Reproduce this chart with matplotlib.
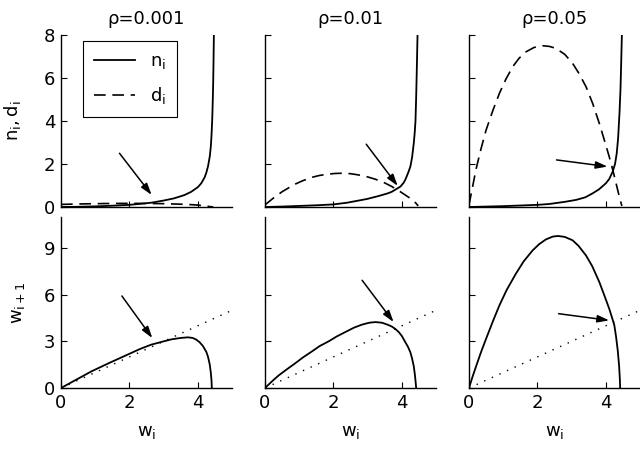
import matplotlib
matplotlib.use("Agg")
import matplotlib.pyplot as plt

plt.rcParams['font.family'] = ['DejaVu Sans']
plt.rcParams['mathtext.fontset'] = 'dejavusans'

# ---------------- data ----------------
titles = ["ρ=0.001", "ρ=0.01", "ρ=0.05"]

# top row: n_i (solid)
n_w = [
    [0, 0.5, 1.0, 1.5, 2.0, 2.4, 2.64, 3.0, 3.3, 3.6, 3.8, 4.0, 4.1, 4.2, 4.25, 4.3, 4.35, 4.38, 4.4, 4.42, 4.43, 4.44, 4.45, 4.46, 4.47],
    [0, 0.5, 1.0, 1.5, 2.0, 2.4, 2.84, 3.0, 3.32, 3.6, 3.71, 3.96, 4.05, 4.1, 4.15, 4.2, 4.25, 4.3, 4.35, 4.38, 4.4, 4.42, 4.44, 4.46],
    [0, 0.5, 1.0, 1.5, 2.0, 2.35, 2.8, 3.13, 3.4, 3.62, 3.8, 4.0, 4.1, 4.2, 4.27, 4.32, 4.36, 4.4, 4.43, 4.45, 4.47],
]
n_v = [
    [0, 0.01, 0.03, 0.06, 0.1, 0.16, 0.2, 0.3, 0.4, 0.55, 0.7, 0.92, 1.1, 1.38, 1.6, 1.9, 2.35, 2.8, 3.3, 4.0, 4.5, 5.1, 5.8, 6.8, 8.0],
    [0, 0.02, 0.05, 0.08, 0.12, 0.2, 0.33, 0.38, 0.51, 0.64, 0.71, 0.95, 1.12, 1.26, 1.45, 1.65, 1.88, 2.3, 2.96, 3.5, 4.0, 5.1, 6.5, 8.0],
    [0, 0.02, 0.04, 0.07, 0.1, 0.14, 0.24, 0.33, 0.45, 0.64, 0.82, 1.1, 1.3, 1.64, 2.0, 2.5, 3.2, 4.36, 5.5, 6.7, 8.0],
]

# top row: d_i (dashed)
d_w = [
    [0, 0.5, 1.0, 1.5, 2.0, 2.5, 3.0, 3.5, 3.8, 4.0, 4.2, 4.35, 4.45],
    [0, 0.25, 0.5, 0.7, 0.89, 1.1, 1.37, 1.6, 1.86, 2.05, 2.25, 2.5, 2.74, 3.0, 3.23, 3.5, 3.71, 3.9, 4.1, 4.25, 4.4, 4.48],
    [0, 0.1, 0.2, 0.35, 0.5, 0.7, 0.89, 1.08, 1.28, 1.47, 1.67, 1.9, 2.15, 2.35, 2.54, 2.8, 3.03, 3.22, 3.42, 3.62, 3.81, 3.95, 4.1, 4.2, 4.3, 4.4, 4.47],
]
d_v = [
    [0.12, 0.14, 0.155, 0.165, 0.17, 0.165, 0.155, 0.13, 0.11, 0.09, 0.05, 0.02, 0.0],
    [0.1, 0.42, 0.71, 0.9, 1.07, 1.22, 1.38, 1.47, 1.53, 1.56, 1.57, 1.55, 1.49, 1.4, 1.29, 1.12, 0.95, 0.77, 0.56, 0.4, 0.2, 0.05],
    [0.1, 0.9, 1.72, 2.7, 3.58, 4.5, 5.29, 5.95, 6.53, 6.93, 7.22, 7.42, 7.5, 7.47, 7.38, 7.1, 6.68, 6.2, 5.6, 4.8, 3.89, 3.15, 2.34, 1.75, 1.1, 0.45, 0.05],
]

# bottom row: w_{i+1} (solid)
wn_w = [
    [0, 0.5, 0.89, 1.4, 1.86, 2.3, 2.64, 3.0, 3.23, 3.5, 3.71, 3.85, 3.95, 4.05, 4.15, 4.25, 4.3, 4.35, 4.38, 4.4, 4.41],
    [0, 0.2, 0.4, 0.65, 0.89, 1.1, 1.37, 1.6, 1.86, 2.1, 2.35, 2.6, 2.84, 3.05, 3.23, 3.42, 3.6, 3.71, 3.81, 3.91, 4.0, 4.1, 4.18, 4.25, 4.3, 4.35, 4.38, 4.4, 4.42],
    [0, 0.1, 0.2, 0.35, 0.5, 0.7, 0.89, 1.1, 1.37, 1.6, 1.86, 2.05, 2.25, 2.45, 2.6, 2.8, 3.03, 3.2, 3.42, 3.6, 3.81, 3.95, 4.1, 4.2, 4.25, 4.3, 4.35, 4.39, 4.41, 4.42],
]
wn_v = [
    [0, 0.6, 1.07, 1.6, 2.06, 2.5, 2.79, 3.0, 3.13, 3.22, 3.26, 3.22, 3.12, 2.95, 2.7, 2.32, 2.0, 1.5, 1.0, 0.5, 0],
    [0, 0.42, 0.81, 1.22, 1.6, 1.95, 2.35, 2.7, 3.0, 3.32, 3.6, 3.88, 4.08, 4.2, 4.24, 4.2, 4.06, 3.95, 3.8, 3.6, 3.35, 2.96, 2.65, 2.3, 1.9, 1.4, 0.9, 0.5, 0],
    [0, 0.7, 1.35, 2.3, 3.17, 4.3, 5.32, 6.3, 7.35, 8.15, 8.85, 9.25, 9.56, 9.74, 9.78, 9.72, 9.5, 9.15, 8.53, 7.85, 6.82, 6.0, 5.1, 4.4, 4.03, 3.3, 2.4, 1.4, 0.6, 0],
]

# diagonal w_{i+1} = w_i (dotted)
diag_w = [0, 5]
diag_v = [0, 5]

# arrows (tail -> tip)
top_arrow_tail = [(1.71, 2.5), (2.96, 2.92), (2.56, 2.19)]
top_arrow_tip = [(2.65, 0.56), (3.88, 0.98), (4.05, 1.88)]
bot_arrow_tail = [(1.78, 5.92), (2.84, 6.93), (2.62, 4.78)]
bot_arrow_tip = [(2.67, 3.21), (3.76, 4.24), (4.10, 4.35)]

x_ticks = [0, 2, 4]
top_yticks = [0, 2, 4, 6, 8]
bot_yticks = [0, 3, 6, 9]

# ---------------- figure ----------------
fig = plt.figure(figsize=(6.4, 4.54), dpi=100)
W, H = 640.0, 454.0
lefts = [61, 265, 469]
aw = 171
top_box = (35, 207)
bot_box = (217, 388)

FS = 13
arrowprops = dict(arrowstyle='-|>,head_length=0.7,head_width=0.22', color='k',
                  lw=1.1, shrinkA=0, shrinkB=0)


def style(ax):
    for s in ['top', 'right']:
        ax.spines[s].set_visible(False)
    for s in ['left', 'bottom']:
        ax.spines[s].set_linewidth(1.0)
    ax.tick_params(direction='in', length=4, width=0.8, labelsize=FS, pad=4)


for j in range(3):
    x0 = lefts[j] / W
    # top
    axt = fig.add_axes([x0, 1 - top_box[1] / H, aw / W, (top_box[1] - top_box[0]) / H])
    style(axt)
    axt.plot(n_w[j], n_v[j], 'k-', lw=1.3, label=r'$\mathregular{n_i}$')
    axt.plot(d_w[j], d_v[j], 'k', lw=1.2, dashes=(7, 4), label=r'$\mathregular{d_i}$')
    axt.set_xlim(0, 5)
    axt.set_ylim(0, 8)
    axt.set_xticks(x_ticks)
    axt.set_yticks(top_yticks)
    axt.set_xticklabels([])
    axt.set_title(titles[j], fontsize=FS, pad=8)
    axt.annotate('', xy=top_arrow_tip[j], xytext=top_arrow_tail[j], arrowprops=arrowprops)
    if j == 0:
        axt.set_ylabel(r'$\mathregular{n_i, d_i}$', fontsize=FS)
        axt.yaxis.set_label_coords(-0.22, 0.5)
        leg = axt.legend(loc='upper left', bbox_to_anchor=(0.129, 0.965), borderaxespad=0,
                         fancybox=False, edgecolor='k', framealpha=1, fontsize=FS,
                         handlelength=2.3, handletextpad=0.8, borderpad=0.6,
                         labelspacing=0.8)
        leg.get_frame().set_linewidth(0.8)
    else:
        axt.set_yticklabels([])

    # bottom
    axb = fig.add_axes([x0, 1 - bot_box[1] / H, aw / W, (bot_box[1] - bot_box[0]) / H])
    style(axb)
    axb.plot(wn_w[j], wn_v[j], 'k-', lw=1.3)
    axb.plot(diag_w, diag_v, 'k', lw=1.0, linestyle=(0, (1, 5)))
    axb.set_xlim(0, 5)
    axb.set_ylim(0, 11)
    axb.set_xticks(x_ticks)
    axb.set_yticks(bot_yticks)
    axb.set_xlabel(r'$\mathregular{w_i}$', fontsize=FS, labelpad=8)
    axb.annotate('', xy=bot_arrow_tip[j], xytext=bot_arrow_tail[j], arrowprops=arrowprops)
    if j == 0:
        axb.set_ylabel(r'$\mathregular{w_{i+1}}$', fontsize=FS)
        axb.yaxis.set_label_coords(-0.2, 0.5)
    else:
        axb.set_yticklabels([])

fig.savefig('out.png', dpi=100)
